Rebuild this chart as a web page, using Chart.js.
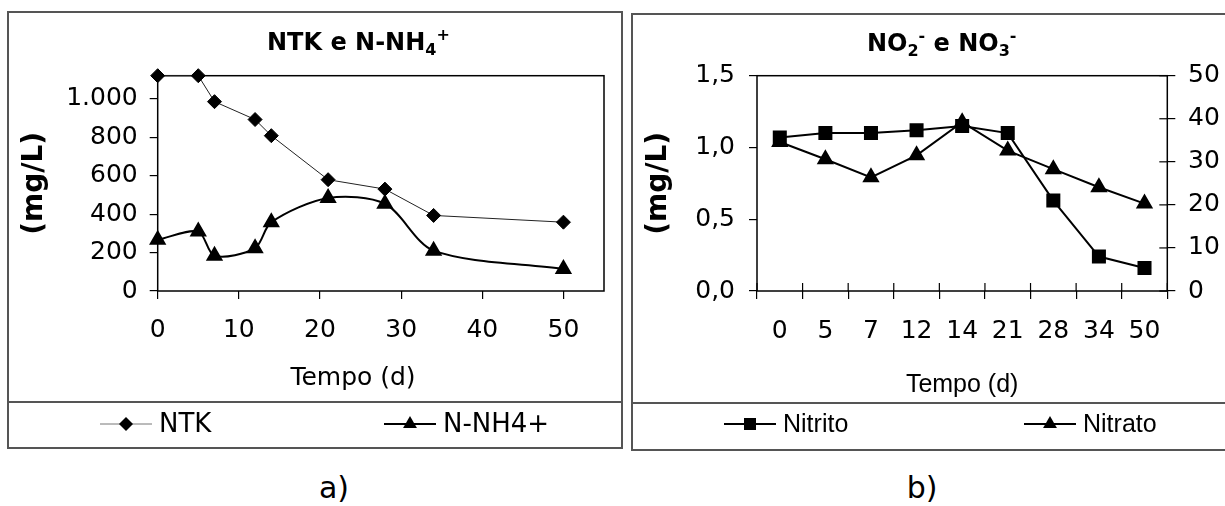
<!DOCTYPE html>
<html>
<head>
<meta charset="utf-8">
<script src="https://cdn.jsdelivr.net/npm/chart.js@4.4.1/dist/chart.umd.min.js"></script>
<style>
  body { margin: 0; width: 1225px; height: 506px; overflow: hidden; background: #fff; position: relative; }
  .panel { position: absolute; box-sizing: border-box; border: 2px solid #555; }
  .rule { position: absolute; height: 0; border-top: 2px solid #555; }
  canvas { position: absolute; }
  .cap { position: absolute; top: 470px; transform: translateX(-50%); font: 30px "DejaVu Sans", Verdana, sans-serif; color: #000; }
</style>
</head>
<body>
<div class="panel" style="left:7px;top:11px;width:616px;height:438px"></div>
<div class="rule" style="left:7px;top:401px;width:616px"></div>
<div class="panel" style="left:631px;top:13px;width:630px;height:438px"></div>
<div class="rule" style="left:631px;top:402px;width:630px"></div>
<canvas id="chartA" width="625" height="460" style="left:0;top:0"></canvas>
<canvas id="chartB" width="600" height="460" style="left:625px;top:0"></canvas>
<div class="cap" style="left:334px">a)</div>
<div class="cap" style="left:922px">b)</div>

<script>
// panel a) - NTK e N-NH4+
var days = [0, 5, 7, 12, 14, 21, 28, 34, 50];
var ntk = [1120, 1120, 985, 892, 808, 579, 530, 393, 358];
var nh4 = [266, 309, 183, 223, 358, 484, 454, 210, 115];
var ntkYLabels = ["0", "200", "400", "600", "800", "1.000"];

// panel b) - NO2- e NO3-
var dayLabels = ["0", "5", "7", "12", "14", "21", "28", "34", "50"];
var nitrito = [1.07, 1.10, 1.10, 1.12, 1.15, 1.10, 0.63, 0.24, 0.16];
var nitrato = [34.6, 30.6, 26.4, 31.5, 39.2, 32.6, 28.3, 24.1, 20.3];
var nitLeftLabels = ["0,0", "0,5", "1,0", "1,5"];
var nitRightLabels = ["0", "10", "20", "30", "40", "50"];

Chart.defaults.font.family = "'DejaVu Sans', Verdana, sans-serif";
Chart.defaults.color = "#000";

function drawMarker(ctx, style, r, x, y) {
  ctx.beginPath();
  if (style === "rectRot") {
    ctx.moveTo(x, y - r); ctx.lineTo(x + r, y); ctx.lineTo(x, y + r); ctx.lineTo(x - r, y);
  } else if (style === "rect") {
    var s = r * Math.SQRT1_2;
    ctx.rect(x - s, y - s, 2 * s, 2 * s);
  } else {
    ctx.moveTo(x, y - r);
    ctx.lineTo(x + r * Math.sin(Math.PI / 3), y + r / 2);
    ctx.lineTo(x - r * Math.sin(Math.PI / 3), y + r / 2);
  }
  ctx.closePath();
  ctx.fill();
}

// frame round the plot, inner tick marks, rich title, extra axis title and excel-like legend
var panelDeco = {
  id: "panelDeco",
  beforeDatasetsDraw: function(chart, args, opts) {
    var ctx = chart.ctx;
    var a = chart.chartArea;
    ctx.save();
    ctx.strokeStyle = "#000";
    ctx.lineWidth = 1.5;
    ctx.strokeRect(a.left, a.top, a.right - a.left, a.bottom - a.top);
    ctx.lineWidth = 1.2;
    if (opts.innerX) {
      var xs = chart.scales.x;
      for (var i = 0; i <= xs.getLabels().length; i++) {
        var px = xs.getPixelForValue(i - 0.5);
        ctx.beginPath(); ctx.moveTo(px, a.bottom); ctx.lineTo(px, a.bottom - 8); ctx.stroke();
      }
    }
    if (opts.innerRight) {
      var ys = chart.scales.y2;
      ys.ticks.forEach(function(t) {
        var py = ys.getPixelForValue(t.value);
        ctx.beginPath(); ctx.moveTo(a.right, py); ctx.lineTo(a.right - 8, py); ctx.stroke();
      });
    }
    ctx.restore();
  },
  afterDraw: function(chart, args, opts) {
    var ctx = chart.ctx;
    ctx.save();
    ctx.fillStyle = "#000";
    ctx.textBaseline = "alphabetic";
    ctx.textAlign = "left";
    // title with sub / superscripts
    var x = opts.title.x;
    opts.title.parts.forEach(function(p) {
      var size = p.sub || p.sup ? 16 : opts.title.size;
      var dy = p.sub ? 5 : (p.sup ? -10 : 0);
      ctx.font = "bold " + size + "px 'DejaVu Sans'";
      ctx.fillText(p.t, x, opts.title.y + dy);
      x += ctx.measureText(p.t).width;
    });
    if (opts.xTitle) {
      ctx.font = opts.xTitle.font;
      ctx.textAlign = "center";
      ctx.textBaseline = "middle";
      ctx.fillText(opts.xTitle.text, opts.xTitle.x, opts.xTitle.y);
    }
    // legend
    ctx.textAlign = "left";
    ctx.textBaseline = "middle";
    ctx.font = opts.legend.font;
    chart.data.datasets.forEach(function(ds, i) {
      var lx = opts.legend.x[i];
      var ly = opts.legend.y;
      ctx.strokeStyle = ds.legendLine || ds.borderColor;
      ctx.lineWidth = ds.borderWidth;
      ctx.beginPath(); ctx.moveTo(lx, ly); ctx.lineTo(lx + 52, ly); ctx.stroke();
      ctx.fillStyle = "#000";
      drawMarker(ctx, ds.pointStyle, ds.pointRadius, lx + 26, ly);
      ctx.fillText(ds.label, lx + 59, ly + 1);
    });
    ctx.restore();
  }
};

var chartA = new Chart(document.getElementById("chartA"), {
  type: "line",
  data: {
    datasets: [
      {
        label: "NTK",
        data: days.map(function(d, i) { return { x: d, y: ntk[i] }; }),
        borderColor: "#222",
        legendLine: "#777",
        borderWidth: 1,
        pointStyle: "rectRot",
        pointRadius: 7,
        pointBackgroundColor: "#000",
        pointBorderColor: "#000",
        tension: 0,
        clip: false
      },
      {
        label: "N-NH4+",
        data: days.map(function(d, i) { return { x: d, y: nh4[i] }; }),
        borderColor: "#000",
        borderWidth: 2,
        pointStyle: "triangle",
        pointRadius: 8,
        pointBackgroundColor: "#000",
        pointBorderColor: "#000",
        tension: 0.3,
        clip: false
      }
    ]
  },
  options: {
    responsive: false,
    animation: false,
    events: [],
    layout: { padding: { top: 75.7, left: 0, right: 21, bottom: 57.5 } },
    plugins: {
      legend: { display: false },
      tooltip: { enabled: false },
      panelDeco: {
        title: { x: 267, y: 50, size: 24, parts: [{ t: "NTK e N-NH" }, { t: "4", sub: true }, { t: "+", sup: true }] },
        xTitle: { text: "Tempo (d)", x: 353, y: 378, font: "25px 'DejaVu Sans'" },
        legend: { y: 424, x: [100, 384], font: "26px 'DejaVu Sans'" }
      }
    },
    scales: {
      x: {
        type: "linear",
        min: 0,
        max: 55,
        ticks: { stepSize: 10, includeBounds: false, padding: 16, font: { size: 25 } },
        grid: { drawOnChartArea: false, tickLength: 8, color: "#000", lineWidth: 1.2 },
        border: { display: false },
        afterFit: function(s) { s.height = 111.5; }
      },
      y: {
        min: 0,
        max: 1120,
        ticks: {
          stepSize: 200,
          includeBounds: false,
          padding: 12,
          font: { size: 25 },
          callback: function(v, i) { return ntkYLabels[i]; }
        },
        grid: { drawOnChartArea: false, tickLength: 8, color: "#000", lineWidth: 1.2 },
        border: { display: false },
        title: { display: true, text: "(mg/L)", font: { size: 28, weight: "bold" }, padding: { top: 17.7, bottom: 0 } },
        afterFit: function(s) { s.width = 157.7; }
      }
    }
  },
  plugins: [panelDeco]
});

var chartB = new Chart(document.getElementById("chartB"), {
  type: "line",
  data: {
    labels: dayLabels,
    datasets: [
      {
        label: "Nitrito",
        data: nitrito,
        yAxisID: "y",
        borderColor: "#000",
        borderWidth: 2,
        pointStyle: "rect",
        pointRadius: 8.5,
        pointBackgroundColor: "#000",
        pointBorderColor: "#000",
        tension: 0,
        clip: false
      },
      {
        label: "Nitrato",
        data: nitrato,
        yAxisID: "y2",
        borderColor: "#000",
        borderWidth: 2,
        pointStyle: "triangle",
        pointRadius: 8,
        pointBackgroundColor: "#000",
        pointBorderColor: "#000",
        tension: 0,
        clip: false
      }
    ]
  },
  options: {
    responsive: false,
    animation: false,
    events: [],
    layout: { padding: { top: 75.7, left: 0, right: 0, bottom: 57.5 } },
    plugins: {
      legend: { display: false },
      tooltip: { enabled: false },
      panelDeco: {
        innerX: true,
        innerRight: true,
        title: { x: 242, y: 51, size: 24, parts: [{ t: "NO" }, { t: "2", sub: true }, { t: "-", sup: true }, { t: " e NO" }, { t: "3", sub: true }, { t: "-", sup: true }] },
        legend: { y: 424, x: [99, 399], font: "25px 'Liberation Sans'" }
      }
    },
    scales: {
      x: {
        type: "category",
        offset: true,
        ticks: { padding: 17, font: { size: 25 } },
        grid: { offset: true, drawOnChartArea: false, tickLength: 8, color: "#000", lineWidth: 1.2 },
        border: { display: false },
        title: { display: true, text: "Tempo (d)", font: { family: "'Liberation Sans'", size: 25 }, padding: { top: 0, bottom: 2.5 } },
        afterFit: function(s) { s.height = 111.5; }
      },
      y: {
        position: "left",
        min: 0,
        max: 1.5,
        ticks: {
          stepSize: 0.5,
          padding: 14,
          font: { size: 25 },
          callback: function(v, i) { return nitLeftLabels[i]; }
        },
        grid: { drawOnChartArea: false, tickLength: 8, color: "#000", lineWidth: 1.2 },
        border: { display: false },
        title: { display: true, text: "(mg/L)", font: { size: 28, weight: "bold" }, padding: { top: 17.2, bottom: 0 } },
        afterFit: function(s) { s.width = 132; }
      },
      y2: {
        position: "right",
        min: 0,
        max: 50,
        ticks: {
          stepSize: 10,
          padding: 12.7,
          font: { size: 25 },
          callback: function(v, i) { return nitRightLabels[i]; }
        },
        grid: { drawOnChartArea: false, tickLength: 8, color: "#000", lineWidth: 1.2 },
        border: { display: false },
        afterFit: function(s) { s.width = 57.7; }
      }
    }
  },
  plugins: [panelDeco]
});
</script>
</body>
</html>
